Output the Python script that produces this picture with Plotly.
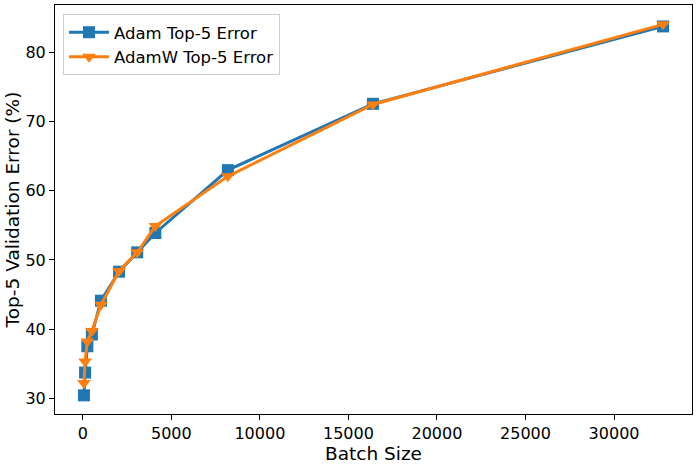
import plotly.graph_objects as go

batch_sizes = [64, 128, 256, 512, 1024, 2048, 3072, 4096, 8192, 16384, 32768]
adam_top5 = [30.4, 33.7, 37.5, 39.2, 44.1, 48.3, 51.1, 53.9, 63.0, 72.6, 83.8]
adamw_top5 = [32.2, 35.3, 38.2, 39.7, 43.5, 48.4, 51.1, 54.9, 62.1, 72.5, 84.1]

x_ticks = [0, 5000, 10000, 15000, 20000, 25000, 30000]
y_ticks = [30, 40, 50, 60, 70, 80]

FONT = "DejaVu Sans"

fig = go.Figure()
fig.add_trace(go.Scatter(
    x=batch_sizes, y=adam_top5, mode="lines+markers", name="Adam Top-5 Error",
    line=dict(color="#1f77b4", width=3),
    marker=dict(symbol="square", size=12, color="#1f77b4"),
))
fig.add_trace(go.Scatter(
    x=batch_sizes, y=adamw_top5, mode="lines+markers", name="AdamW Top-5 Error",
    line=dict(color="#ff7f0e", width=3),
    marker=dict(symbol="triangle-down", size=12, color="#ff7f0e"),
))

fig.update_layout(
    width=698, height=464,
    margin=dict(l=55, r=6, t=5, b=50, autoexpand=False),
    paper_bgcolor="white", plot_bgcolor="white",
    font=dict(family=FONT, size=16, color="black"),
    legend=dict(
        x=0.0126, y=0.978, xanchor="left", yanchor="top",
        bgcolor="rgba(255,255,255,0.8)", bordercolor="#cccccc", borderwidth=1,
        font=dict(family=FONT, size=16.5, color="black"),
        itemwidth=40, tracegroupgap=0,
    ),
    showlegend=True,
)
fig.update_xaxes(
    range=[-1571, 34403], tickvals=x_ticks, ticktext=[str(v) for v in x_ticks],
    showgrid=False, zeroline=False, showline=True, linecolor="black", linewidth=1,
    mirror=True, ticks="outside", ticklen=5, tickcolor="black", automargin=False,
    tickfont=dict(family=FONT, size=16, color="black"),
    title=dict(text="Batch Size", font=dict(family=FONT, size=18.5, color="black"), standoff=3),
)
fig.update_yaxes(
    range=[27.7, 86.9], tickvals=y_ticks, ticktext=[str(v) for v in y_ticks],
    showgrid=False, zeroline=False, showline=True, linecolor="black", linewidth=1,
    mirror=True, ticks="outside", ticklen=5, tickcolor="black", automargin=False,
    tickfont=dict(family=FONT, size=16, color="black"),
    title=dict(text="Top-5 Validation Error (%)", font=dict(family=FONT, size=18.5, color="black"), standoff=0),
)

fig.write_html(
    "out.html",
    config={"displayModeBar": False},
    post_script="document.body.style.margin='0';document.body.style.overflow='hidden';",
)
